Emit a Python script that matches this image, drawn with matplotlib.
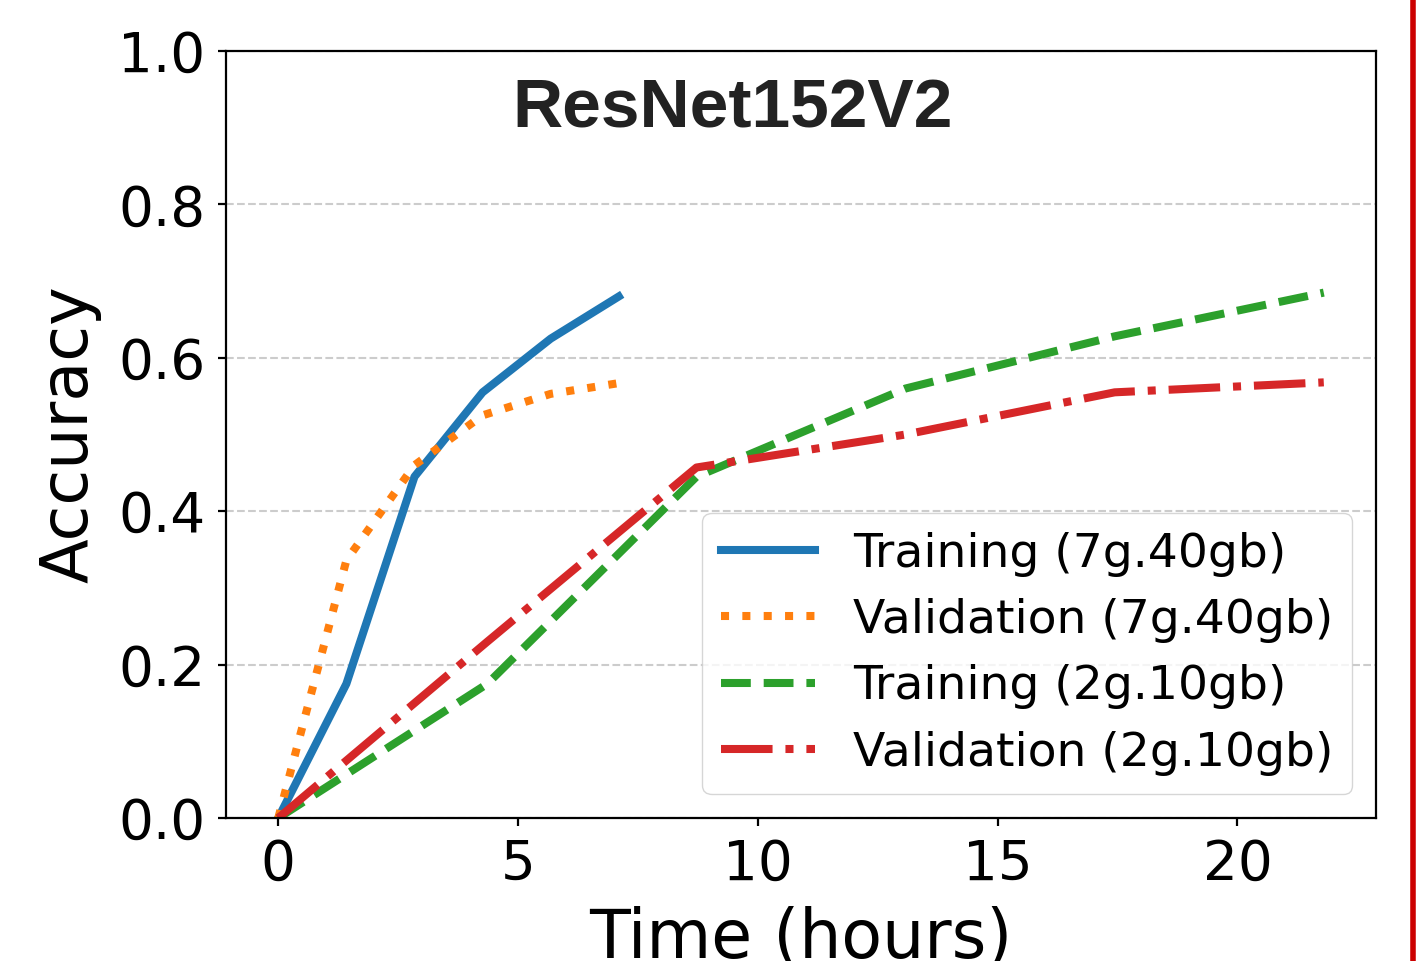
import matplotlib.pyplot as plt
from matplotlib.lines import Line2D

# tempos (horas) e acuracias
tempo_7g = [0.0, 1.42, 2.84, 4.26, 5.68, 7.1]
treino_7g = [0.0, 0.175, 0.445, 0.555, 0.625, 0.68]
valid_7g = [0.0, 0.336, 0.46, 0.525, 0.553, 0.567]

tempo_2g = [0.0, 4.36, 8.72, 13.08, 17.44, 21.8]
treino_2g = [0.0, 0.175, 0.445, 0.56, 0.628, 0.685]
valid_2g = [0.0, 0.23, 0.457, 0.50, 0.555, 0.568]

ROTULOS = ['Training (7g.40gb)', 'Validation (7g.40gb)',
           'Training (2g.10gb)', 'Validation (2g.10gb)']

fig = plt.figure(figsize=(14.17, 9.61), dpi=100)
ax = fig.add_axes([0.1595, 0.1488, 0.8116, 0.7981])

lw = 5.8
ax.plot(tempo_7g, treino_7g, color='#1f77b4', linestyle='-', linewidth=lw, label=ROTULOS[0])
ax.plot(tempo_7g, valid_7g, color='#ff7f0e', linestyle=':', linewidth=lw, label=ROTULOS[1])
ax.plot(tempo_2g, treino_2g, color='#2ca02c', linestyle='--', linewidth=lw, label=ROTULOS[2])
ax.plot(tempo_2g, valid_2g, color='#d62728', linestyle='-.', linewidth=lw, label=ROTULOS[3])

ax.set_ylim(0, 1.0)
ax.set_xticks([0, 5, 10, 15, 20])
ax.set_yticks([0.0, 0.2, 0.4, 0.6, 0.8, 1.0])
ax.tick_params(labelsize=39.5, length=6, width=1.6)
ax.tick_params(axis='y', pad=9)
ax.tick_params(axis='x', pad=8)
for s in ax.spines.values():
    s.set_linewidth(1.6)

ax.grid(True, axis='y', linestyle='--', color='#cccccc', linewidth=1.5)
ax.set_axisbelow(True)

ax.set_xlabel('Time (hours)', fontsize=48, labelpad=10)
ax.set_ylabel('Accuracy', fontsize=47, labelpad=12)

ax.text(9.48, 0.924, 'ResNet152V2', fontsize=50, fontweight='bold',
        family='Liberation Sans', color='#222222', ha='center', va='center')

ax.legend(loc='lower right', fontsize=34, labelspacing=0.45)

# borda vermelha do lado direito
fig.add_artist(Line2D([0.9975, 0.9975], [0, 1], transform=fig.transFigure,
                      color='#cc0000', linewidth=4))

fig.savefig('out.png', dpi=100)
